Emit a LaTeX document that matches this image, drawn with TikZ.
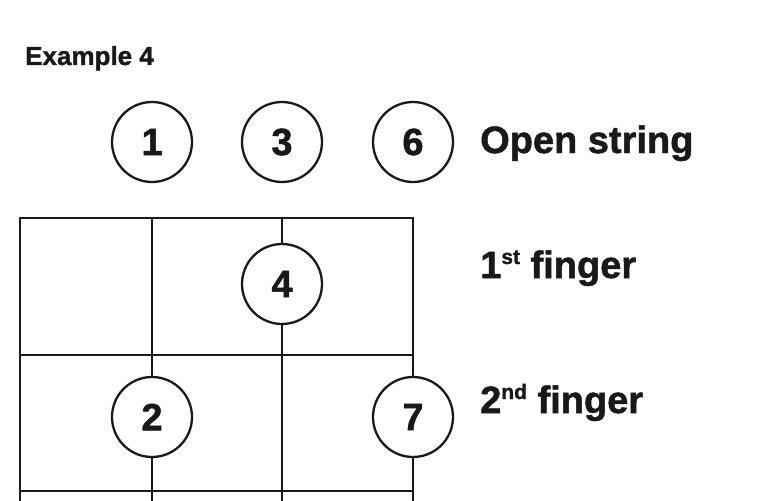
\documentclass[tikz,border=0pt]{standalone}
\usepackage{fontspec}
\setmainfont{Liberation Sans}[BoldFeatures={FakeBold=1.3}]
\begin{document}
\begin{tikzpicture}[x=1pt,y=-1pt,
  gridline/.style={line width=2.5pt, draw=black!90},
  note/.style={circle, draw=black!90, line width=2.3pt, fill=white, minimum size=80pt, inner sep=0pt, font=\fontsize{38}{38}\selectfont\bfseries, text=black!90},
  label/.style={anchor=base west, inner sep=0pt, font=\fontsize{38}{38}\selectfont\bfseries, text=black!90}]
\useasboundingbox (0,0) rectangle (759,500);
\begin{scope}
\clip (0,0) rectangle (759,500);
\foreach \x in {20,152,282,413} \draw[gridline] (\x,218) -- (\x,520);
\foreach \y in {218,355,491} \draw[gridline] (18.75,\y) -- (414.25,\y);
\end{scope}
\node[anchor=base west, inner sep=0pt, font=\fontsize{26}{26}\selectfont\bfseries, text=black!90] (title) at (25,65) {Example 4};
\node[note] (n1) at (152,142) {1};
\node[note] (n3) at (282,142) {3};
\node[note] (n6) at (413,142) {6};
\node[note] (n4) at (282,284) {4};
\node[note] (n2) at (152,417) {2};
\node[note] (n7) at (413,417) {7};
\node[label] (open) at (480,153) {Open string};
\node[label] (first) at (480,278) {1\raisebox{14pt}{\fontsize{21}{21}\selectfont st} finger};
\node[label] (second) at (480,413) {2\raisebox{14pt}{\fontsize{21}{21}\selectfont nd} finger};
\end{tikzpicture}
\end{document}
